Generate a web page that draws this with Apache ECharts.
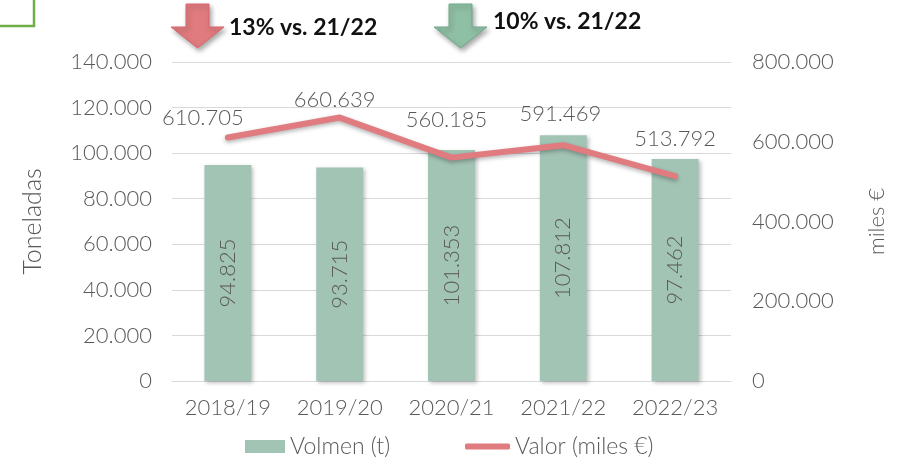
<!DOCTYPE html>
<html><head><meta charset="utf-8">
<script src="https://cdn.jsdelivr.net/npm/echarts@6/dist/echarts.min.js"></script>
<style>html,body{margin:0;padding:0;background:#fff}#c{width:898px;height:462px}</style>
</head><body><div id="c"></div>
<script>
const categories = ['2018/19','2019/20','2020/21','2021/22','2022/23'];
const volumen = [94825, 93715, 101353, 107812, 97462];
const valor = [610705, 660639, 560185, 591469, 513792];
const leftTicks = {min:0, max:140000, interval:20000};
const rightTicks = {min:0, max:800000, interval:200000};
const labelOffsets = [[-25,0],[-5,2],[-5,-18],[-3,-12],[0,-18]];

function fmt(v){ return String(Math.round(v)).replace(/\B(?=(\d{3})+(?!\d))/g,'.'); }
const FONT = 'Lato, "Noto Sans", sans-serif';
const GREY = '#595959';
const FW = 300;

const chart = echarts.init(document.getElementById('c'));
chart.setOption({
  animation:false,
  textStyle:{fontFamily:FONT},
  grid:{left:172,right:167,top:62,bottom:81},
  legend:[
    {data:['Volmen (t)'],left:240,top:430,itemWidth:40,itemHeight:13,icon:'rect',itemGap:10,
     textStyle:{color:GREY,fontSize:23,fontWeight:FW,fontFamily:FONT}},
    {data:['Valor (miles €)'],left:460,top:430,itemWidth:45,itemHeight:6,icon:'roundRect',
     textStyle:{color:GREY,fontSize:23,fontWeight:FW,fontFamily:FONT}}
  ],
  xAxis:{type:'category',data:categories,
    axisLine:{lineStyle:{color:'#d9d9d9',width:1}},axisTick:{show:false},
    axisLabel:{interval:0,color:GREY,fontSize:22,fontWeight:FW,margin:16,fontFamily:FONT}},
  yAxis:[
    {type:'value',min:leftTicks.min,max:leftTicks.max,interval:leftTicks.interval,
     name:'Toneladas',nameLocation:'middle',nameGap:127,nameRotate:90,
     nameTextStyle:{color:GREY,fontSize:25,fontWeight:FW,fontFamily:FONT},
     axisLabel:{color:GREY,fontSize:22,fontWeight:FW,margin:20,formatter:fmt,fontFamily:FONT},
     axisLine:{show:false},axisTick:{show:false},
     splitLine:{lineStyle:{color:'#d9d9d9',width:1}}},
    {type:'value',min:rightTicks.min,max:rightTicks.max,interval:rightTicks.interval,
     name:'miles €',nameLocation:'middle',nameGap:135,nameRotate:90,
     nameTextStyle:{color:GREY,fontSize:22,fontWeight:FW,fontFamily:FONT},
     axisLabel:{color:GREY,fontSize:22,fontWeight:FW,margin:21,formatter:fmt,fontFamily:FONT},
     axisLine:{show:false},axisTick:{show:false},splitLine:{show:false}}
  ],
  series:[
    {name:'Volmen (t)',type:'bar',yAxisIndex:0,data:volumen,barWidth:'42%',
     itemStyle:{color:'#a2c4b5',shadowColor:'rgba(0,0,0,0.25)',shadowBlur:4,shadowOffsetX:2,shadowOffsetY:2},
     label:{show:true,position:'inside',rotate:90,color:GREY,fontSize:22,fontWeight:FW,fontFamily:FONT,formatter:p=>fmt(p.value)}},
    {name:'Valor (miles €)',type:'line',yAxisIndex:1,
     data:valor.map((v,i)=>({value:v,label:{show:true,offset:labelOffsets[i]}})),
     symbol:'circle',symbolSize:5,showSymbol:true,
     lineStyle:{color:'#e07b7f',width:6,cap:'round',join:'round',shadowColor:'rgba(0,0,0,0.3)',shadowBlur:4,shadowOffsetY:2},
     itemStyle:{color:'#e07b7f',borderWidth:0},
     label:{show:true,position:'top',distance:6,color:GREY,fontSize:22,fontWeight:FW,fontFamily:FONT,formatter:p=>fmt(p.value)}}
  ],
  graphic:[
    {type:'rect',shape:{x:-5,y:-5,width:39,height:31},style:{fill:'none',stroke:'#70ad47',lineWidth:2.5}},
    {type:'polygon',shape:{points:[[186,4],[209,4],[209,27],[224,27],[197.5,48],[171,27],[186,27]]},
     style:{fill:'#e07b7f',stroke:'#d9676d',lineWidth:1,shadowColor:'rgba(0,0,0,0.35)',shadowBlur:5,shadowOffsetX:2,shadowOffsetY:3}},
    {type:'text',left:229,top:16,style:{text:'13% vs. 21/22',fill:'#111',font:'bold 23px '+FONT}},
    {type:'polygon',shape:{points:[[449,4],[472,4],[472,27],[487,27],[460.5,48],[434,27],[449,27]]},
     style:{fill:'#8fbfa5',stroke:'#6fa98a',lineWidth:1,shadowColor:'rgba(0,0,0,0.35)',shadowBlur:5,shadowOffsetX:2,shadowOffsetY:3}},
    {type:'text',left:493,top:10,style:{text:'10% vs. 21/22',fill:'#111',font:'bold 23px '+FONT}}
  ]
});
</script></body></html>
